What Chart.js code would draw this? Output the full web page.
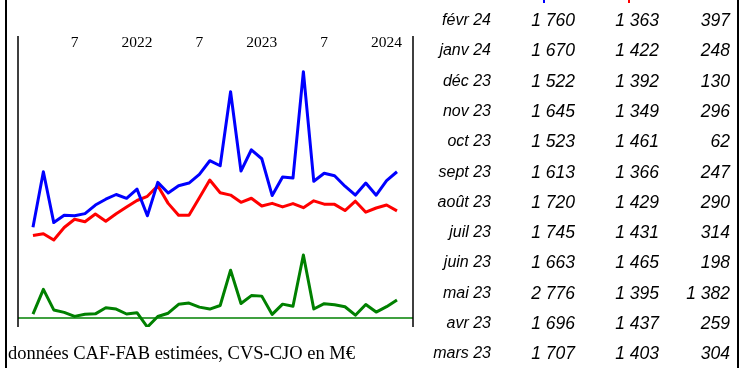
<!DOCTYPE html>
<html>
<head>
<meta charset="utf-8">
<script src="https://cdn.jsdelivr.net/npm/chart.js@4/dist/chart.umd.min.js"></script>
<style>
    body { margin: 0; width: 741px; height: 368px; overflow: hidden; background: #fff; position: relative; }
    #chart { position: absolute; left: 0; top: 0; }
    .vline { position: absolute; top: 0; width: 1.5px; height: 368px; background: #000; }
    .note { position: absolute; left: 8px; top: 343px; font: 18.5px 'Liberation Serif', serif; line-height: 20px; color: #000; white-space: nowrap; }
    .cell { position: absolute; font-style: italic; font-family: 'Liberation Sans', Arial, sans-serif; line-height: 20px; color: #000; text-align: right; white-space: nowrap; }
    .mois { font-size: 16px; width: 80px; }
    .val { font-size: 17.5px; width: 70px; }
    .tick { position: absolute; top: 0; width: 2px; height: 3px; }
</style>
</head>
<body>
<canvas id="chart" width="420" height="368"></canvas>
<div class="vline" style="left:5px"></div>
<div class="vline" style="left:737px"></div>
<div class="tick" style="left:543px;background:#0000ff"></div>
<div class="tick" style="left:628px;background:#ff0000"></div>
<div class="note">données CAF-FAB estimées, CVS-CJO en M€</div>
<div id="table"></div>
<script>
// mois de mars 2021 à février 2024
const months = ['mars 21', 'avr 21', 'mai 21', 'juin 21', 'juil 21', 'août 21', 'sept 21', 'oct 21', 'nov 21', 'déc 21',
    'janv 22', 'févr 22', 'mars 22', 'avr 22', 'mai 22', 'juin 22', 'juil 22', 'août 22', 'sept 22', 'oct 22', 'nov 22', 'déc 22',
    'janv 23', 'févr 23', 'mars 23', 'avr 23', 'mai 23', 'juin 23', 'juil 23', 'août 23', 'sept 23', 'oct 23', 'nov 23', 'déc 23',
    'janv 24', 'févr 24'];

// série bleue
const serieBleue = [1196, 1760, 1244, 1318, 1314, 1335, 1422, 1481, 1529, 1490, 1584, 1313,
    1652, 1544, 1618, 1645, 1734, 1872, 1821, 2572, 1767, 1983, 1892, 1518,
    1707, 1696, 2776, 1663, 1745, 1720, 1613, 1523, 1645, 1522, 1670, 1760];

// série rouge
const serieRouge = [1112, 1131, 1067, 1194, 1278, 1252, 1331, 1257, 1333, 1402, 1468, 1511,
    1618, 1439, 1318, 1318, 1495, 1676, 1547, 1523, 1450, 1491, 1412, 1439,
    1403, 1437, 1395, 1465, 1431, 1429, 1366, 1461, 1349, 1392, 1422, 1363];

// solde (vert)
const serieVerte = [84, 629, 177, 124, 36, 83, 91, 224, 196, 88, 116, -198,
    34, 105, 300, 327, 239, 196, 274, 1049, 317, 492, 480, 79,
    304, 259, 1382, 198, 314, 290, 247, 62, 296, 130, 248, 397];

const tickMonths = ['juil 21', 'janv 22', 'juil 22', 'janv 23', 'juil 23', 'janv 24'];
const tickLabels = ['7', '2022', '7', '2023', '7', '2024'];

const toPoints = arr => arr.map((v, i) => ({ x: i, y: v }));

// lignes verticales et zéro du solde
const cadre = {
    id: 'cadre',
    beforeDatasetsDraw(chart) {
        const { ctx, chartArea: a, scales } = chart;
        const y0 = scales.ySolde.getPixelForValue(0);
        ctx.save();
        ctx.lineWidth = 1.5;
        ctx.strokeStyle = '#008000';
        ctx.beginPath();
        ctx.moveTo(a.left, y0);
        ctx.lineTo(a.right, y0);
        ctx.stroke();
        ctx.strokeStyle = '#000';
        ctx.beginPath();
        ctx.moveTo(a.left, a.top);
        ctx.lineTo(a.left, a.bottom);
        ctx.moveTo(a.right, a.top);
        ctx.lineTo(a.right, a.bottom);
        ctx.stroke();
        ctx.restore();
    }
};

const lineStyle = { borderWidth: 3, pointRadius: 0, tension: 0, borderJoinStyle: 'round', fill: false };

new Chart(document.getElementById('chart'), {
    type: 'line',
    data: {
        datasets: [
            { ...lineStyle, data: toPoints(serieBleue), borderColor: '#0000ff', yAxisID: 'y' },
            { ...lineStyle, data: toPoints(serieRouge), borderColor: '#ff0000', yAxisID: 'y' },
            { ...lineStyle, data: toPoints(serieVerte), borderColor: '#008000', yAxisID: 'ySolde' }
        ]
    },
    options: {
        responsive: false,
        animation: false,
        devicePixelRatio: 1,
        layout: { padding: { left: 18, right: 7, top: 36, bottom: 41 } },
        plugins: { legend: { display: false }, tooltip: { enabled: false } },
        scales: {
            x: {
                type: 'linear',
                position: 'top',
                bounds: 'data',
                min: -1.44,
                max: 36.54,
                grid: { display: false, drawTicks: false },
                border: { display: false },
                afterBuildTicks: s => { s.ticks = tickMonths.map(m => ({ value: months.indexOf(m) })); },
                afterFit: s => { s.height = 0; },
                ticks: {
                    autoSkip: false,
                    maxRotation: 0,
                    mirror: true,
                    padding: -2,
                    color: '#000',
                    font: { family: 'Liberation Serif', size: 15.5 },
                    callback: (v, i) => tickLabels[i]
                }
            },
            y: { display: false, min: 184, max: 3138 },
            ySolde: { display: false, min: -197, max: 6184 }
        }
    },
    plugins: [cadre]
});

// tableau des 12 derniers mois
const fmt = v => String(v).replace(/\B(?=(\d{3})+(?!\d))/g, ' ');
const table = document.getElementById('table');
const colRight = [491, 575, 659, 730];
for (let k = 0; k < 12; k++) {
    const i = months.length - 1 - k;
    const top = 20 + 30.3 * k - 10;
    const cells = [months[i], fmt(serieBleue[i]), fmt(serieRouge[i]), fmt(serieVerte[i])];
    cells.forEach((txt, c) => {
        const d = document.createElement('div');
        d.className = 'cell ' + (c === 0 ? 'mois' : 'val');
        const w = c === 0 ? 80 : 70;
        d.style.left = (colRight[c] - w) + 'px';
        d.style.top = top + 'px';
        d.textContent = txt;
        table.appendChild(d);
    });
}
</script>
</body>
</html>
